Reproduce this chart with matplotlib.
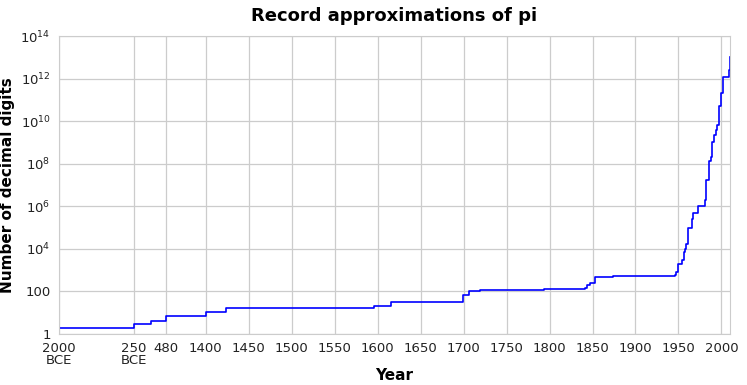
import numpy as np
from matplotlib import pyplot as plt

# Record number of decimal digits of pi by year (negative = BCE)
years = [-2000, -250, 150, 480, 1400, 1424, 1596, 1615, 1699, 1706,
         1719, 1794, 1841, 1844, 1847, 1853, 1874, 1946, 1947, 1949, 1954, 1957,
         1958, 1959, 1961, 1966, 1967, 1973, 1981, 1982, 1985, 1986, 1987, 1988,
         1989, 1991, 1994, 1995, 1997, 1999, 2002, 2009, 2010]
digits = [2, 3, 4, 7, 11, 16, 20, 33, 71, 100,
          112, 136, 152, 200, 248, 500, 527, 620, 808, 2037, 3089, 7480,
          10000, 16167, 100265, 250000, 500000, 1001250, 2000036, 16777206, 17526200, 134214700, 134217700, 201326551,
          1011196691, 2260000000, 4044000000, 6442450938, 51539600000, 206158430000, 1241100000000, 2576980377524, 10000000000000]

tick_years = [-2000, -250, 480, 1400, 1450, 1500, 1550, 1600, 1650, 1700, 1750, 1800, 1850, 1900, 1950, 2000]
tick_labels = ['2000\nBCE', '250\nBCE', '480', '1400', '1450', '1500', '1550', '1600',
               '1650', '1700', '1750', '1800', '1850', '1900', '1950', '2000']

# piecewise x axis: compressed before 1400, linear after
knot_years = np.array([-2000, -250, 480, 1400, 2010])
knot_pos = np.array([0, 75, 107, 147, 147 + 610 * 0.86])


def fwd(x):
    return np.interp(x, knot_years, knot_pos)


def inv(p):
    return np.interp(p, knot_pos, knot_years)


fig = plt.figure(figsize=(7.47, 3.85), dpi=100)
ax = fig.add_axes([59 / 747, 51 / 385, 671 / 747, 298 / 385])
ax.set_xscale('function', functions=(fwd, inv))
ax.set_yscale('log')

ax.step(years + [2010], digits + [digits[-1]], where='post', color='#0000ff', linewidth=1.2)

ax.set_xlim(-2000, 2010)
ax.set_ylim(1, 1e14)
ax.set_xticks(tick_years)
ax.set_xticklabels(tick_labels, linespacing=0.85)
yt = [1, 100] + [10 ** k for k in range(4, 15, 2)]
ax.set_yticks(yt)
ax.set_yticklabels(['1', '100'] + [r'$10^{%d}$' % k for k in range(4, 15, 2)])
ax.minorticks_off()

ax.grid(True, color='#cccccc', linewidth=0.9)
for s in ax.spines.values():
    s.set_color('#cccccc')
ax.tick_params(length=0, labelsize=9.5, colors='#222222', pad=6)

ax.set_title('Record approximations of pi', fontsize=13, fontweight='bold', pad=11)
ax.set_xlabel('Year', fontsize=11, fontweight='bold', labelpad=1)
ax.set_ylabel('Number of decimal digits', fontsize=11, fontweight='bold')

fig.savefig('out.png', dpi=100)
